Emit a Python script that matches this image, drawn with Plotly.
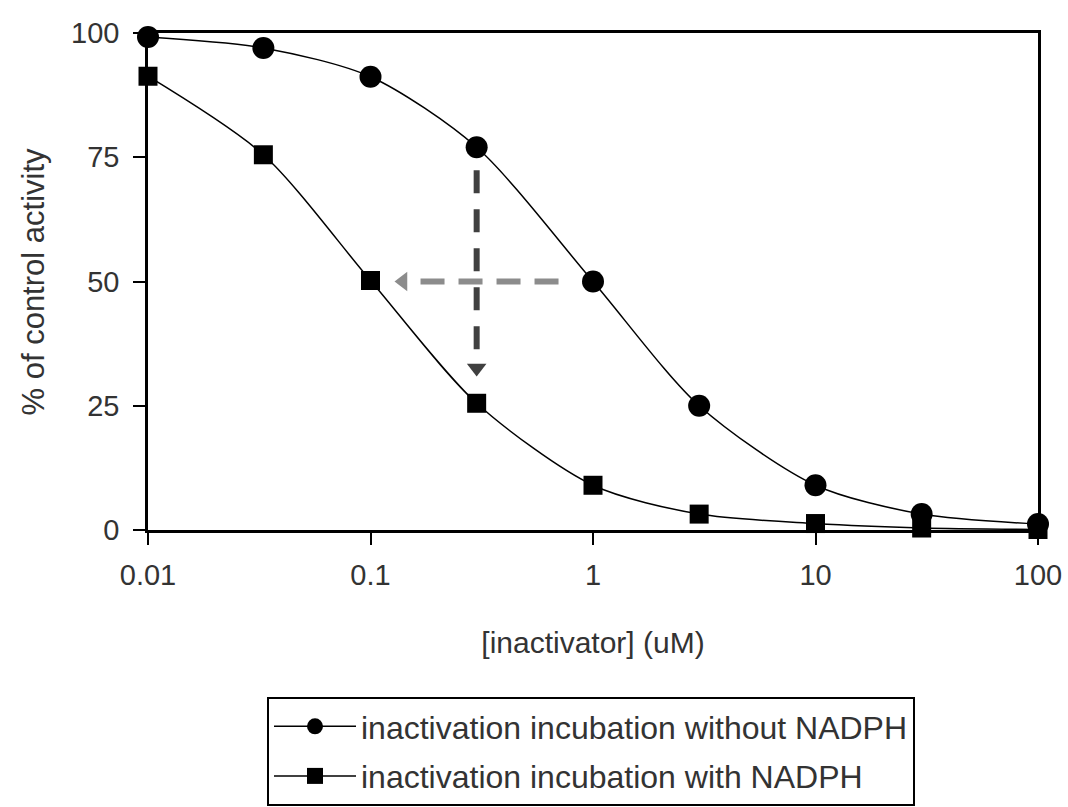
import plotly.graph_objects as go

# ---- data ----
conc = [0.01, 0.033, 0.1, 0.3, 1, 3, 10, 30, 100]
without_nadph = [99.2, 97.0, 91.2, 77.0, 50.0, 25.0, 9.0, 3.2, 1.2]
with_nadph = [91.3, 75.5, 50.2, 25.5, 9.0, 3.2, 1.3, 0.4, 0.1]
series_names = ["inactivation incubation without NADPH", "inactivation incubation with NADPH"]

x_tick_vals = [0.01, 0.1, 1, 10, 100]
x_tick_text = ["0.01", "0.1", "1", "10", "100"]
y_tick_vals = [0, 25, 50, 75, 100]
x_title = "[inactivator] (uM)"
y_title = "% of control activity"

# arrow guides (vertical: shift at 0.3 uM, horizontal: IC50 shift at 50%)
vert_arrow_x = [0.3, 0.3]
vert_arrow_y = [72.4, 36.0]
vert_head = (0.3, 32.6)
horiz_arrow_x = [0.70, 0.162]
horiz_arrow_y = [50, 50]
horiz_head = (0.140, 50)

FONT = "Liberation Sans, Arial, sans-serif"
TXT = "#333333"

W, H = 1068, 807

fig = go.Figure()

# guide arrows (drawn beneath data)
fig.add_trace(go.Scatter(x=vert_arrow_x, y=vert_arrow_y, mode="lines",
                         line=dict(color="#404040", width=6, dash="23px,16px"),
                         showlegend=False, hoverinfo="skip", cliponaxis=False))
fig.add_trace(go.Scatter(x=[vert_head[0]], y=[vert_head[1]], mode="markers",
                         marker=dict(symbol="triangle-down", size=17, color="#404040"),
                         showlegend=False, hoverinfo="skip", cliponaxis=False))
fig.add_trace(go.Scatter(x=horiz_arrow_x, y=horiz_arrow_y, mode="lines",
                         line=dict(color="#8c8c8c", width=6, dash="24px,14px"),
                         showlegend=False, hoverinfo="skip", cliponaxis=False))
fig.add_trace(go.Scatter(x=[horiz_head[0]], y=[horiz_head[1]], mode="markers",
                         marker=dict(symbol="triangle-left", size=17, color="#8c8c8c"),
                         showlegend=False, hoverinfo="skip", cliponaxis=False))

fig.add_trace(go.Scatter(x=conc, y=without_nadph, name=series_names[0],
                         legendgroup="a",
                         mode="lines+markers",
                         line=dict(color="black", width=1.5, shape="spline", smoothing=0.8),
                         marker=dict(symbol="circle", size=22, color="black"),
                         cliponaxis=False))
fig.add_trace(go.Scatter(x=conc, y=with_nadph, name=series_names[1],
                         legendgroup="b",
                         mode="lines+markers",
                         line=dict(color="black", width=1.5, shape="spline", smoothing=0.8),
                         marker=dict(symbol="square", size=19, color="black"),
                         cliponaxis=False))

fig.update_layout(
    width=W, height=H,
    margin=dict(l=148, r=30, t=33, b=277, autoexpand=False),
    paper_bgcolor="white", plot_bgcolor="white",
    font=dict(family=FONT, size=30, color=TXT),
    legend=dict(
        xref="container", yref="container",
        x=267 / W, y=1 - 697 / H,
        xanchor="left", yanchor="top",
        bordercolor="black", borderwidth=2, bgcolor="white",
        font=dict(family=FONT, size=32, color=TXT),
        itemwidth=82, tracegroupgap=5,
    ),
    showlegend=True,
    annotations=[dict(
        text=y_title, textangle=-90,
        xref="paper", yref="paper", x=0, y=0.5,
        xanchor="center", yanchor="middle", xshift=-115,
        showarrow=False, font=dict(family=FONT, size=31, color=TXT),
    )],
)

fig.update_xaxes(
    type="log", range=[-2, 2],
    tickvals=x_tick_vals, ticktext=x_tick_text, tickangle=0,
    ticks="outside", ticklen=12, tickwidth=2, tickcolor="black",
    showline=True, linecolor="black", linewidth=2.5, mirror=True,
    showgrid=False, zeroline=False,
    tickfont=dict(family=FONT, size=29, color=TXT),
    ticklabelstandoff=5, ticklabeloverflow="allow",
    title=dict(text=x_title, font=dict(family=FONT, size=30, color=TXT), standoff=43),
)
fig.update_yaxes(
    range=[0, 100],
    tickvals=y_tick_vals,
    ticks="outside", ticklen=12, tickwidth=2, tickcolor="black",
    showline=True, linecolor="black", linewidth=2.5, mirror=True,
    showgrid=False, zeroline=False,
    tickfont=dict(family=FONT, size=29, color=TXT),
    ticklabelstandoff=8,
)

# remove the default 8px page margin so the 1068x807 figure fills the window
fig.write_html("out.html", config={"displayModeBar": False},
               post_script="document.body.style.margin='0';")
